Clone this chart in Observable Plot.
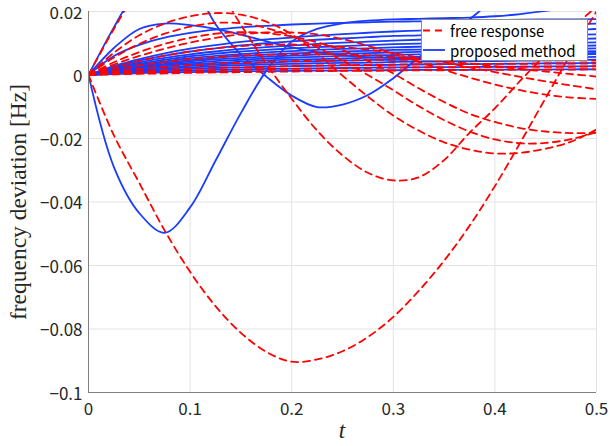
<!DOCTYPE html>
<html>
<head>
<meta charset="utf-8">
<script src="https://cdn.jsdelivr.net/npm/d3@7"></script>
<script src="https://cdn.jsdelivr.net/npm/@observablehq/plot@0.6"></script>
<style>
  html, body { margin: 0; padding: 0; background: #fff; }
  #chart { position: relative; width: 610px; height: 446px; }
  #legend { position: absolute; left: 421px; top: 19px; }
</style>
</head>
<body>
<div id="chart"></div>
<script>
// time grid (s)
const T = [0,0.025,0.05,0.075,0.1,0.125,0.15,0.175,0.2,0.225,0.25,0.275,0.3,0.325,0.35,0.375,0.4,0.425,0.45,0.475,0.5];

// free response (red dashed)
const free1  = [0,-0.019,-0.034,-0.049,-0.062,-0.0728,-0.0812,-0.0872,-0.0903,-0.0896,-0.087,-0.0825,-0.0762,-0.068,-0.0585,-0.0475,-0.035,-0.0213,-0.0072,0.0068,0.02];
const free2  = [0,0.0145,0.027,0.034,0.034,0.028,0.0158,0.0035,-0.0075,-0.0175,-0.0253,-0.0308,-0.0332,-0.0322,-0.0268,-0.0182,-0.0105,-0.0018,0.0065,0.0145,0.0215];
const free3  = [0,0.007,0.0125,0.0162,0.0185,0.0195,0.019,0.0168,0.0128,0.0068,-0.0002,-0.0068,-0.0128,-0.0175,-0.0212,-0.0235,-0.0247,-0.0245,-0.0232,-0.021,-0.0172];
const free4  = [0,0.0055,0.0098,0.013,0.0152,0.0164,0.0163,0.0148,0.0122,0.0087,0.0045,0,-0.0048,-0.0098,-0.0142,-0.0178,-0.0203,-0.0215,-0.0214,-0.0202,-0.018];
const free5  = [0,0.004,0.0072,0.0098,0.0117,0.013,0.0135,0.0132,0.0121,0.0103,0.0078,0.0044,0.0005,-0.0042,-0.0085,-0.0122,-0.0148,-0.0167,-0.0178,-0.0183,-0.0182];
const free6  = [0,0.0033,0.006,0.0083,0.0102,0.0117,0.0128,0.0134,0.0134,0.0128,0.0113,0.0092,0.0067,0.0041,0.0016,-0.0008,-0.003,-0.0048,-0.0062,-0.0071,-0.0075];
const free7  = [0,0.0024,0.0044,0.0061,0.0074,0.0084,0.0091,0.0095,0.0096,0.0094,0.0088,0.008,0.0069,0.0055,0.004,0.0024,0.0009,-0.0006,-0.002,-0.0033,-0.0045];
const free8  = [0,0.0016,0.003,0.0041,0.005,0.0056,0.0061,0.0064,0.0066,0.0066,0.0065,0.0062,0.0057,0.0051,0.0044,0.0036,0.0028,0.0019,0.0011,0.0003,-0.0005];
const free9  = [0,0.001,0.0019,0.0026,0.0031,0.0035,0.0038,0.0041,0.0043,0.0045,0.0046,0.0047,0.0048,0.0048,0.0048,0.0048,0.0047,0.0047,0.0046,0.0046,0.0045];
const free10 = [0,0.0006,0.0011,0.0015,0.0019,0.0022,0.0024,0.0026,0.0028,0.003,0.0031,0.0032,0.0033,0.0034,0.0034,0.0035,0.0035,0.0035,0.0036,0.0036,0.0036];
const free11 = [0,0.0004,0.0007,0.001,0.0012,0.0014,0.0016,0.0018,0.0019,0.002,0.0021,0.0022,0.0023,0.0024,0.0024,0.0025,0.0025,0.0026,0.0026,0.0026,0.0027];
const free12 = [0,0.0002,0.0004,0.0005,0.0007,0.0008,0.0009,0.001,0.0011,0.0012,0.0013,0.0013,0.0014,0.0015,0.0015,0.0016,0.0016,0.0017,0.0017,0.0017,0.0018];

// proposed method (blue solid)
const prop1  = [0,0.015,0.028,0.035,0.03,0.016,0.0065,-0.0005,-0.0065,-0.0101,-0.0093,-0.0063,-0.001,0.0055,0.011,0.0175,0.024,0.03,0.034,0.037,0.039];
const prop2  = [0,0.0085,0.0145,0.0162,0.0157,0.0145,0.0127,0.0106,0.0087,0.0072,0.0062,0.0056,0.0053,0.0052,0.0053,0.0055,0.0058,0.0061,0.0064,0.0067,0.007];
const prop3  = [0,-0.029,-0.0435,-0.0497,-0.0417,-0.027,-0.012,0.0013,0.0105,0.0145,0.0163,0.0171,0.0175,0.0177,0.0179,0.0181,0.0185,0.0192,0.0202,0.0213,0.0225];
const prop4  = [0,0.006,0.0095,0.0118,0.0133,0.0143,0.015,0.0155,0.0159,0.0162,0.0164,0.0166,0.0168,0.0169,0.0171,0.0172,0.0173,0.0174,0.0175,0.0175,0.0176];
const prop5  = [0,0.0028,0.005,0.0068,0.0083,0.0094,0.0104,0.0112,0.0118,0.0124,0.0129,0.0133,0.0137,0.014,0.0143,0.0147,0.015,0.0153,0.0156,0.0159,0.0162];
const prop6  = [0,0.0025,0.0045,0.0061,0.0074,0.0084,0.0093,0.01,0.0106,0.0111,0.0115,0.0119,0.0123,0.0125,0.0128,0.0131,0.0134,0.0137,0.014,0.0142,0.0145];
const prop7  = [0,0.0022,0.004,0.0054,0.0065,0.0074,0.0082,0.0088,0.0093,0.0098,0.0102,0.0105,0.0108,0.0111,0.0113,0.0116,0.0118,0.0121,0.0123,0.0126,0.0128];
const prop8  = [0,0.002,0.0036,0.0048,0.0059,0.0067,0.0074,0.0079,0.0084,0.0088,0.0091,0.0094,0.0097,0.0099,0.0102,0.0104,0.0106,0.0109,0.0111,0.0113,0.0115];
const prop9  = [0,0.0018,0.0032,0.0043,0.0053,0.006,0.0066,0.0071,0.0075,0.0079,0.0082,0.0084,0.0087,0.0089,0.0091,0.0093,0.0095,0.0097,0.0099,0.0101,0.0103];
const prop10 = [0,0.0016,0.0029,0.0039,0.0047,0.0054,0.006,0.0064,0.0068,0.0071,0.0074,0.0076,0.0079,0.008,0.0082,0.0084,0.0086,0.0088,0.009,0.0091,0.0093];
const prop11 = [0,0.0014,0.0026,0.0035,0.0043,0.0049,0.0054,0.0058,0.0061,0.0064,0.0067,0.0069,0.0071,0.0073,0.0074,0.0076,0.0078,0.0079,0.0081,0.0082,0.0084];
const prop12 = [0,0.0013,0.0023,0.0032,0.0038,0.0044,0.0048,0.0052,0.0055,0.0057,0.006,0.0062,0.0063,0.0065,0.0066,0.0068,0.0069,0.0071,0.0072,0.0074,0.0075];
const prop13 = [0,0.0011,0.002,0.0028,0.0034,0.0038,0.0042,0.0046,0.0048,0.005,0.0052,0.0054,0.0056,0.0057,0.0058,0.006,0.0061,0.0062,0.0064,0.0065,0.0066];
const prop14 = [0,0.001,0.0018,0.0024,0.0029,0.0033,0.0036,0.0039,0.0042,0.0044,0.0045,0.0047,0.0048,0.0049,0.005,0.0052,0.0053,0.0054,0.0055,0.0056,0.0057];
const prop15 = [0,0.0008,0.0015,0.002,0.0024,0.0028,0.0031,0.0033,0.0035,0.0037,0.0038,0.0039,0.0041,0.0042,0.0042,0.0043,0.0044,0.0045,0.0046,0.0047,0.0048];
const prop16 = [0,0.0006,0.0012,0.0016,0.0019,0.0022,0.0024,0.0026,0.0028,0.0029,0.003,0.0031,0.0032,0.0033,0.0034,0.0034,0.0035,0.0036,0.0037,0.0037,0.0038];
const prop17 = [0,0.0005,0.0009,0.0012,0.0014,0.0016,0.0018,0.0019,0.002,0.0021,0.0022,0.0023,0.0024,0.0024,0.0025,0.0025,0.0026,0.0026,0.0027,0.0027,0.0028];
const prop18 = [0,0.0003,0.0006,0.0008,0.0009,0.001,0.0012,0.0012,0.0013,0.0014,0.0014,0.0015,0.0015,0.0016,0.0016,0.0016,0.0017,0.0017,0.0017,0.0018,0.0018];

// axes ticks and labels
const xTicks = [0, 0.1, 0.2, 0.3, 0.4, 0.5];
const xTickLabels = ["0", "0.1", "0.2", "0.3", "0.4", "0.5"];
const yTicks = [0.02, 0, -0.02, -0.04, -0.06, -0.08, -0.1];
const yTickLabels = ["0.02", "0", "\u22120.02", "\u22120.04", "\u22120.06", "\u22120.08", "\u22120.1"];
const legendLabels = ["free response", "proposed method"];

const freeSeries = [free1, free2, free3, free4, free5, free6, free7, free8, free9, free10, free11, free12];
const propSeries = [prop1, prop2, prop3, prop4, prop5, prop6, prop7, prop8, prop9, prop10, prop11, prop12, prop13, prop14, prop15, prop16, prop17, prop18];

const toRows = (list, kind) => list.flatMap((vals, k) => vals.map((v, i) => ({t: T[i], v, id: kind + k})));
const freeRows = toRows(freeSeries, "f");
const propRows = toRows(propSeries, "p");

const RED = "#ff0000";
const BLUE = "#1a3cff";
const FONT = "'Noto Sans CJK JP', 'Noto Sans', sans-serif";

const chart = Plot.plot({
  width: 610,
  height: 446,
  marginLeft: 88,
  marginRight: 14,
  marginTop: 11,
  marginBottom: 54,
  style: {fontFamily: FONT, fontSize: "17px", color: "#262626", background: "#fff", overflow: "visible"},
  x: {domain: [0, 0.5], label: null},
  y: {domain: [-0.1, 0.02], label: null},
  marks: [
    Plot.gridX(xTicks, {stroke: "#e3e3e3", strokeOpacity: 1}),
    Plot.gridY(yTicks, {stroke: "#e3e3e3", strokeOpacity: 1}),
    Plot.line(propRows, {x: "t", y: "v", z: "id", stroke: BLUE, strokeWidth: 1.8, curve: "catmull-rom", clip: true}),
    Plot.line(freeRows, {x: "t", y: "v", z: "id", stroke: RED, strokeWidth: 1.8, strokeDasharray: "7,5", curve: "catmull-rom", clip: true}),
    Plot.ruleX([0], {stroke: "#808080"}),
    Plot.ruleY([-0.1], {stroke: "#808080"}),
    Plot.axisX(xTicks, {tickSize: 0, tickPadding: 10, tickFormat: (d, i) => xTickLabels[i], fontSize: 17}),
    Plot.axisY(yTicks, {tickSize: 0, tickPadding: 6, dy: 2, tickFormat: (d, i) => yTickLabels[i], fontSize: 17})
  ]
});

const host = document.getElementById("chart");
host.appendChild(chart);

const svg = d3.select(chart);
// axis titles
svg.append("text")
  .attr("transform", "translate(21,202) rotate(-90)")
  .attr("text-anchor", "middle")
  .attr("dominant-baseline", "middle")
  .style("font-family", "'Liberation Serif', serif")
  .style("font-size", "23.5px")
  .attr("fill", "#262626")
  .text("frequency deviation [Hz]");
svg.append("text")
  .attr("x", 342).attr("y", 433)
  .attr("text-anchor", "middle")
  .attr("dominant-baseline", "middle")
  .style("font-family", "'Liberation Serif', serif")
  .style("font-style", "italic")
  .style("font-size", "23px")
  .attr("fill", "#262626")
  .text("t");

// legend (separate overlay svg)
const lg = d3.select(host).append("svg")
  .attr("id", "legend").attr("width", 167).attr("height", 42);
lg.append("rect").attr("x", 0.5).attr("y", 0.5).attr("width", 166).attr("height", 41)
  .attr("fill", "#fff").attr("stroke", "#8c8c8c");
[[RED, "7,5"], [BLUE, null]].forEach(([c, dash], i) => {
  const y = 11.5 + i * 19.5;
  const ln = lg.append("line").attr("x1", 2).attr("x2", 24).attr("y1", y).attr("y2", y)
    .attr("stroke", c).attr("stroke-width", 1.8);
  if (dash) ln.attr("stroke-dasharray", dash);
  lg.append("text").attr("x", 29).attr("y", y).attr("dominant-baseline", "central")
    .attr("text-anchor", "start")
    .style("font-family", FONT).style("font-size", "15px")
    .attr("fill", "#000").text(legendLabels[i]);
});
</script>
</body>
</html>
